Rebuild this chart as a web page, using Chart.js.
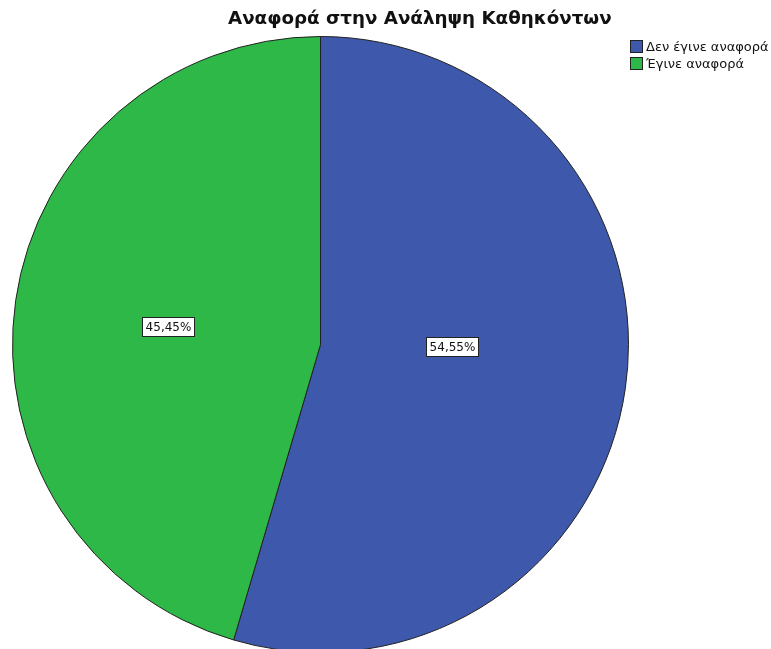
<!DOCTYPE html>
<html>
<head>
<meta charset="utf-8">
<script src="https://cdn.jsdelivr.net/npm/chart.js@4"></script>
<style>
  html, body { margin:0; padding:0; background:#fff; overflow:hidden; }
  #wrap { position:relative; width:771px; height:649px; overflow:hidden; }
  #c { position:absolute; left:0; top:0; }
  #title { position:absolute; left:228px; top:7px; white-space:nowrap;
    font-family:"DejaVu Sans", sans-serif; font-weight:bold; font-size:18.3px; color:#111; }
  #legend { position:absolute; left:630px; top:38px; font-family:"DejaVu Sans", sans-serif;
    font-size:13px; color:#111; line-height:17px; }
  .item { display:flex; align-items:center; }
  .sw { width:11px; height:11px; border:1px solid #222; margin-right:3px; }
</style>
</head>
<body>
<div id="wrap">
  <canvas id="c"></canvas>
  <div id="title"></div>
  <div id="legend"></div>
</div>
<script>
const chartTitle = "Αναφορά στην Ανάληψη Καθηκόντων";
const categories = ["Δεν έγινε αναφορά", "Έγινε αναφορά"];
const percentages = [54.55, 45.45];
const sliceColors = ["#3E58AC", "#2EB848"];

document.getElementById('title').textContent = chartTitle;
const lg = document.getElementById('legend');
categories.forEach((c, i) => {
  const d = document.createElement('div'); d.className = 'item';
  const s = document.createElement('span'); s.className = 'sw'; s.style.background = sliceColors[i];
  const t = document.createElement('span'); t.textContent = c;
  d.appendChild(s); d.appendChild(t); lg.appendChild(d);
});

const canvas = document.getElementById('c');
canvas.width = 771; canvas.height = 700;
canvas.style.width = '771px'; canvas.style.height = '700px';

// label placement style (fraction of radius along the slice's mid-angle)
const labelRadiusFactor = [0.43, 0.5];
const labelLift = 7;

const labelPlugin = {
  id: 'boxLabels',
  afterDatasetsDraw(chart) {
    const ctx = chart.ctx;
    const meta = chart.getDatasetMeta(0);
    ctx.save();
    ctx.font = '12px "DejaVu Sans", sans-serif';
    ctx.textAlign = 'center'; ctx.textBaseline = 'middle';
    meta.data.forEach((arc, i) => {
      const p = arc.getProps(['x','y','startAngle','endAngle','outerRadius'], true);
      const mid = (p.startAngle + p.endAngle) / 2;
      const r = p.outerRadius * labelRadiusFactor[i];
      const x = p.x + Math.cos(mid) * r;
      const y = p.y + Math.sin(mid) * r * 0.5 - labelLift;
      const txt = percentages[i].toFixed(2).replace('.', ',') + '%';
      const w = Math.round(ctx.measureText(txt).width + 6), h = 19;
      const bx = Math.round(x - w/2) + 0.5, by = Math.round(y - h/2) + 0.5;
      ctx.fillStyle = '#fff';
      ctx.fillRect(bx, by, w, h);
      ctx.strokeStyle = '#222'; ctx.lineWidth = 1;
      ctx.strokeRect(bx, by, w, h);
      ctx.fillStyle = '#111';
      ctx.fillText(txt, bx + w/2, by + h/2 + 0.5);
    });
    ctx.restore();
  }
};

new Chart(canvas, {
  type: 'pie',
  data: {
    labels: categories,
    datasets: [{
      data: percentages,
      backgroundColor: sliceColors,
      borderColor: '#222',
      borderWidth: 1
    }]
  },
  options: {
    responsive: false,
    animation: false,
    layout: { padding: { left: 12, right: 142, top: 36, bottom: 47 } },
    plugins: { legend: { display: false }, title: { display: false }, tooltip: { enabled: false } }
  },
  plugins: [labelPlugin]
});
</script>
</body>
</html>
